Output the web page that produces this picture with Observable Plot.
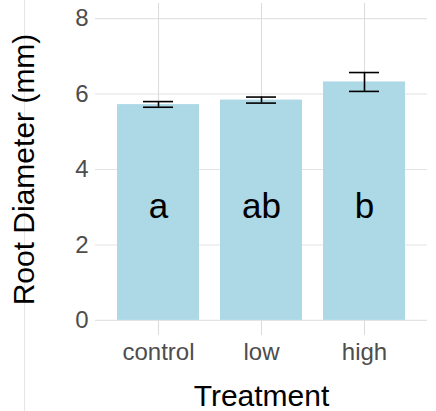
<!DOCTYPE html>
<html>
<head>
<meta charset="utf-8">
<script src="https://cdn.jsdelivr.net/npm/d3@7"></script>
<script src="https://cdn.jsdelivr.net/npm/@observablehq/plot@0.6"></script>
<style>
  html, body { margin: 0; padding: 0; background: #fff; }
  #wrap { position: relative; width: 436px; height: 411px; overflow: hidden; }
  #edge { position: absolute; left: 24px; top: 0; width: 0; height: 411px; border-left: 1px solid #e6e6e6; }
  #chart { position: absolute; left: 0; top: 0; }
</style>
</head>
<body>
<div id="wrap"><div id="edge"></div><div id="chart"></div></div>
<script>
const treatments = ["control", "low", "high"];
const means = [5.72, 5.84, 6.32];
const lower = [5.65, 5.76, 6.07];
const upper = [5.80, 5.92, 6.57];
const letters = ["a", "ab", "b"];
const yTicks = [0, 2, 4, 6, 8];
const letterY = 3;

const data = treatments.map((t, i) => ({
  treatment: t, mean: means[i], lo: lower[i], hi: upper[i], letter: letters[i]
}));

const plot = Plot.plot({
  width: 436,
  height: 411,
  marginTop: 3,
  marginBottom: 76,
  marginLeft: 95,
  marginRight: 9,
  style: { fontFamily: "'Liberation Sans', Arial, sans-serif", background: "transparent" },
  x: { domain: treatments, paddingInner: 0.2, paddingOuter: 0.2, label: null },
  y: { domain: [-0.4, 8.4], label: null },
  marks: [
    Plot.gridY(yTicks, { stroke: "#e3e3e3", strokeOpacity: 1, strokeWidth: 1.1 }),
    Plot.gridX(treatments, { stroke: "#dcdcdc", strokeOpacity: 1, strokeWidth: 1.1 }),
    Plot.barY(data, { x: "treatment", y: "mean", fill: "#ADD8E6" }),
    Plot.ruleX(data, { x: "treatment", y1: "lo", y2: "hi", stroke: "#000", strokeWidth: 1.6 }),
    Plot.tickY(data, { x: "treatment", y: "lo", stroke: "#000", strokeWidth: 1.6, inset: 26 }),
    Plot.tickY(data, { x: "treatment", y: "hi", stroke: "#000", strokeWidth: 1.6, inset: 26 }),
    Plot.text(data, { x: "treatment", y: () => letterY, text: "letter", fontSize: 35, fill: "#000" }),
    Plot.axisY(yTicks, { tickSize: 0, tickPadding: 7, fontSize: 24, color: "#4d4d4d", label: null }),
    Plot.axisX(treatments, { tickSize: 0, tickPadding: 7, fontSize: 24, color: "#4d4d4d", label: null }),
    Plot.text(["Root Diameter (mm)"], { frameAnchor: "left", textAnchor: "middle", lineAnchor: "middle", rotate: -90, dx: -71, fontSize: 30, fill: "#000" }),
    Plot.text(["Treatment"], { frameAnchor: "bottom", textAnchor: "middle", lineAnchor: "middle", dy: 61, fontSize: 30, fill: "#000" })
  ]
});
document.getElementById("chart").appendChild(plot);
</script>
</body>
</html>
